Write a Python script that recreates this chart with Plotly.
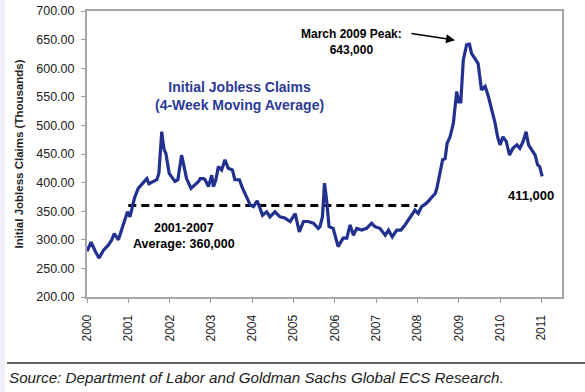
import plotly.graph_objects as go

# Decimal-year positions and 4-week moving average of initial jobless claims (thousands)
years = [2000.00, 2000.10, 2000.20, 2000.29, 2000.40, 2000.52, 2000.60, 2000.66, 2000.76, 2000.88,
         2000.98, 2001.04, 2001.15, 2001.24, 2001.36, 2001.45, 2001.50, 2001.60, 2001.69, 2001.74,
         2001.78, 2001.81, 2001.84, 2001.87, 2001.91, 2001.95, 2001.99, 2002.05, 2002.13, 2002.20,
         2002.26, 2002.29, 2002.33, 2002.36, 2002.41, 2002.52, 2002.61, 2002.70, 2002.74, 2002.82,
         2002.86, 2002.94, 2003.02, 2003.06, 2003.12, 2003.18, 2003.26, 2003.34, 2003.42, 2003.52,
         2003.58, 2003.69, 2003.75, 2003.83, 2003.95, 2004.03, 2004.12, 2004.19, 2004.25, 2004.35,
         2004.43, 2004.55, 2004.67, 2004.79, 2004.92, 2005.04, 2005.14, 2005.24, 2005.36, 2005.48,
         2005.60, 2005.64, 2005.70, 2005.75, 2005.80, 2005.86, 2005.96, 2006.08, 2006.20, 2006.29,
         2006.37, 2006.45, 2006.53, 2006.65, 2006.77, 2006.89, 2006.97, 2007.09, 2007.22, 2007.30,
         2007.39, 2007.50, 2007.60, 2007.70, 2007.82, 2007.94, 2008.02, 2008.10, 2008.22, 2008.35,
         2008.43, 2008.47, 2008.53, 2008.61, 2008.67, 2008.72, 2008.79, 2008.87, 2008.95, 2009.00,
         2009.05, 2009.11, 2009.19, 2009.26, 2009.31, 2009.39, 2009.47, 2009.55, 2009.64, 2009.72,
         2009.80, 2009.88, 2009.94, 2010.00, 2010.07, 2010.15, 2010.23, 2010.31, 2010.41, 2010.48,
         2010.56, 2010.63, 2010.69, 2010.77, 2010.85, 2010.91, 2010.96, 2011.02]
claims = [280, 296, 280, 268, 282, 291, 300, 311, 300, 326,
          349, 340, 373, 390, 399, 407, 398, 402, 405, 416,
          450, 489, 470, 457, 451, 430, 416, 410, 402, 405,
          430, 448, 435, 422, 407, 390, 396, 402, 407, 407,
          405, 393, 413, 393, 405, 428, 422, 440, 425, 422,
          405, 405, 393, 381, 361, 358, 368, 355, 343, 349,
          340, 349, 340, 338, 332, 346, 314, 332, 332, 329,
          320, 323, 340, 399, 370, 323, 320, 288, 303, 303,
          326, 308, 320, 317, 320, 329, 323, 320, 308, 317,
          305, 317, 317, 326, 338, 352, 346, 358, 364, 375,
          381, 390, 410, 440, 442, 469, 480, 504, 559, 541,
          541, 614, 641, 642, 626, 617, 608, 562, 568, 550,
          527, 504, 480, 466, 480, 472, 448, 460, 466, 460,
          472, 489, 466, 457, 448, 431, 428, 411]

# 2001-2007 average reference line
avg_years = [2001, 2008]
avg_value = [360, 360]

tick_years = list(range(2000, 2012))
tick_labels = [str(y) for y in tick_years]
y_ticks = list(range(200, 701, 50))

FONT = "Arial, Liberation Sans, sans-serif"

fig = go.Figure()
fig.add_trace(go.Scatter(x=avg_years, y=avg_value, mode="lines",
                         line=dict(color="black", width=3, dash="8px,5px"),
                         hoverinfo="skip", showlegend=False))
fig.add_trace(go.Scatter(x=years, y=claims, mode="lines",
                         line=dict(color="#22308f", width=3.2),
                         showlegend=False))

fig.update_layout(
    width=585, height=392,
    margin=dict(l=87, r=23, t=11, b=95),
    paper_bgcolor="white", plot_bgcolor="white",
    font=dict(family=FONT, size=12, color="#222222"),
    xaxis=dict(range=[2000, 2011.5], tickmode="array", tickvals=tick_years,
               ticktext=tick_labels, tickangle=-90, ticks="outside", ticklen=4,
               tickcolor="#999999", showgrid=False, zeroline=False, automargin=False,
               ticklabelstandoff=7,
               showline=True, linecolor="#a6a6a6", linewidth=2, mirror=True,
               tickfont=dict(size=12, color="#222222")),
    yaxis=dict(range=[200, 700], tickmode="array", tickvals=y_ticks,
               tickformat=".2f", ticks="outside", ticklen=4, tickcolor="#999999",
               showgrid=False, zeroline=False, automargin=False,
               ticklabelstandoff=4,
               showline=True, linecolor="#a6a6a6", linewidth=2, mirror=True,
               tickfont=dict(size=12.5, color="#222222"),
               title=dict(text="<b>Initial Jobless Claims (Thousands)</b>",
                          font=dict(size=11.5, color="#222222"), standoff=10)),
)

fig.add_annotation(x=2003.70, y=551, xref="x", yref="y", showarrow=False,
                   text="<b>Initial Jobless Claims<br>(4-Week Moving Average)</b>",
                   font=dict(size=14, color="#2b3a96", family=FONT), align="center")
fig.add_annotation(x=2006.40, y=646, xref="x", yref="y", showarrow=False,
                   text="<b>March 2009 Peak:<br>643,000</b>",
                   font=dict(size=12, color="black", family=FONT), align="center")
fig.add_annotation(x=2008.91, y=649, xref="x", yref="y", text="", showarrow=True,
                   ax=-45, ay=-7, arrowhead=2, arrowsize=1.2, arrowwidth=1.5,
                   arrowcolor="black")
fig.add_annotation(x=2010.75, y=378, xref="x", yref="y", showarrow=False,
                   text="<b>411,000</b>",
                   font=dict(size=13, color="black", family=FONT))
fig.add_annotation(x=2002.36, y=306.6, xref="x", yref="y", showarrow=False,
                   text="<b>2001-2007<br>Average: 360,000</b>",
                   font=dict(size=12.5, color="black", family=FONT), align="center")

# Source separator and text
fig.add_shape(type="line", xref="paper", yref="paper",
              x0=(7 - 87) / 475, x1=(585 - 87) / 475,
              y0=(297 - 363) / 286, y1=(297 - 363) / 286,
              line=dict(color="#333333", width=1.5))
fig.add_shape(type="rect", xref="paper", yref="paper",
              x0=-87 / 475, x1=(5 - 87) / 475, y0=-95 / 286, y1=(297 + 11) / 286,
              fillcolor="#eef0fa", line=dict(width=0), layer="below")
fig.add_annotation(x=(7 - 87) / 475, y=(297 - 377) / 286, xref="paper", yref="paper",
                   xanchor="left", yanchor="middle", showarrow=False,
                   text="<i>Source: Department of Labor and Goldman Sachs Global ECS Research.</i>",
                   font=dict(size=15.2, color="#222222", family=FONT))

fig.write_html("out.html", config={"displayModeBar": False},
               post_script="document.body.style.margin='0px';document.body.style.overflow='hidden';")
